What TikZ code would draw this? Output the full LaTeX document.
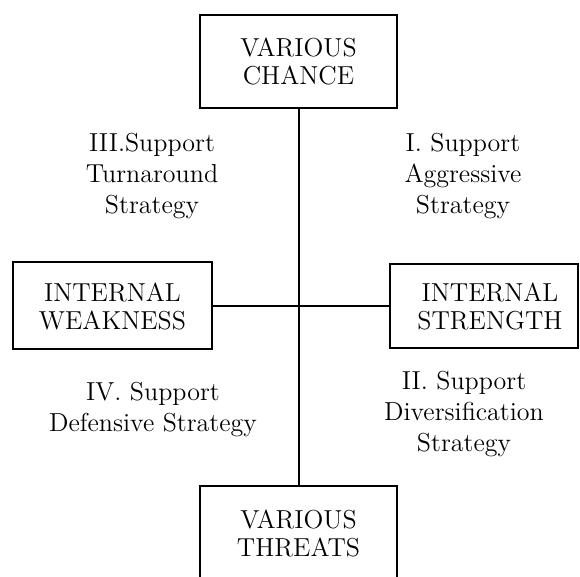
\documentclass[tikz,border=0pt]{standalone}
\usepackage{tikz}
\usetikzlibrary{positioning,calc}

\begin{document}
\begin{tikzpicture}[x=0.5pt,y=-0.5pt,line width=1pt,
    box/.style={draw,rectangle,align=center,inner sep=0pt,font=\fontsize{13}{14}\selectfont},
    quad/.style={align=center,inner sep=0pt,font=\fontsize{13}{15.5}\selectfont},
    ]
\useasboundingbox (0,0) rectangle (580,577);

\node[box,minimum width=98.5pt,minimum height=46.5pt] (chance) at (298.5,61.5) {VARIOUS\\CHANCE};
\node[box,minimum width=98.5pt,minimum height=47pt] (threats) at (298.5,533) {VARIOUS\\THREATS};
\node[box,minimum width=99.5pt,minimum height=43.5pt] (weakness) at (112.5,306) {INTERNAL\\WEAKNESS};
\node[box,minimum width=94pt,minimum height=42pt] (strength) at (484,306) {\hspace*{6pt}INTERNAL\\\hspace*{6pt}STRENGTH};

\draw (chance.south) -- (threats.north); % vertical axis
\draw (weakness.east) -- (strength.west); % horizontal axis

\node[quad] (q3) at (152,176) {III.Support\\Turnaround\\Strategy};
\node[quad] (q1) at (463,176) {I. Support\\Aggressive\\Strategy};
\node[quad] (q4) at (153,410) {IV. Support\\Defensive Strategy};
\node[quad] (q2) at (464,414) {II. Support\\Diversification\\Strategy};
\end{tikzpicture}
\end{document}
